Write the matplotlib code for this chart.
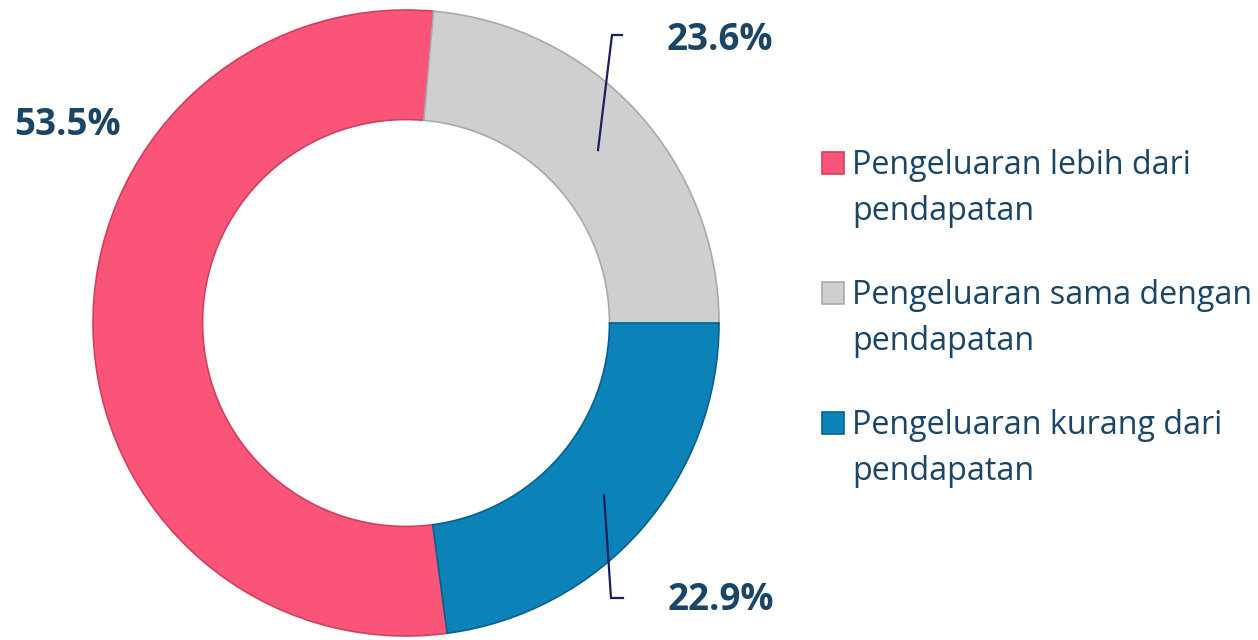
import matplotlib
matplotlib.use("Agg")
import matplotlib.pyplot as plt
from matplotlib.patches import Rectangle

categories = ["Pengeluaran lebih dari\npendapatan",
              "Pengeluaran sama dengan\npendapatan",
              "Pengeluaran kurang dari\npendapatan"]
values = [53.5, 23.6, 22.9]
value_labels = ["53.5%", "23.6%", "22.9%"]
colors = ["#FA5578", "#CFCFCF", "#0B82B8"]
edge_colors = ["#D23F5E", "#A9A9A9", "#07628D"]

W, H = 1258, 640
fig = plt.figure(figsize=(W / 100, H / 100), dpi=100)
cx, cy, R = 406, 323, 313
ax = fig.add_axes([(cx - R) / W, (H - cy - R) / H, 2 * R / W, 2 * R / H])

start = -360 * values[2] / sum(values)
wedges, _ = ax.pie(values, colors=colors, startangle=start, counterclock=False,
                   radius=1.0, wedgeprops=dict(width=0.35, linewidth=1.2))
for w, ec in zip(wedges, edge_colors):
    w.set_edgecolor(ec)
ax.set_xlim(-1.0, 1.0)
ax.set_ylim(-1.0, 1.0)
ax.set_aspect("equal")
ax.axis("off")

def d(px, py):
    return ((px - cx) / R, (cy - py) / R)

label_color = "#1A4566"
font_bold = dict(family="Open Sans", fontsize=26.5, fontweight="bold", color=label_color)
label_pos = [(67, 125), (720, 40), (721, 600)]
for (px, py), txt in zip(label_pos, value_labels):
    x, y = d(px, py)
    ax.text(x, y, txt, ha="center", va="center", clip_on=False, **font_bold)

line_color = "#1B1F5E"
for pts in [[(598, 150), (612, 35), (622, 35)], [(604, 495), (611, 598), (623, 598)]]:
    xs, ys = zip(*[d(px, py) for px, py in pts])
    ax.plot(xs, ys, color=line_color, lw=1.6, clip_on=False, solid_joinstyle="miter")

# legend (manual, entries aligned to first line like the reference)
entry_top = [174, 304, 434]   # baseline of first line (px)
line_gap = 46.5
for base, cat, fc, ec in zip(entry_top, categories, colors, edge_colors):
    fig.patches.append(Rectangle((822 / W, 1 - (base) / H), 22 / W, 22 / H,
                                 transform=fig.transFigure, facecolor=fc,
                                 edgecolor=ec, linewidth=1.2))
    for i, line in enumerate(cat.split("\n")):
        fig.text(852 / W, 1 - (base + i * line_gap) / H, line,
                 family="Open Sans", fontsize=23.2, color=label_color,
                 ha="left", va="baseline")

fig.savefig("out.png", dpi=100)
